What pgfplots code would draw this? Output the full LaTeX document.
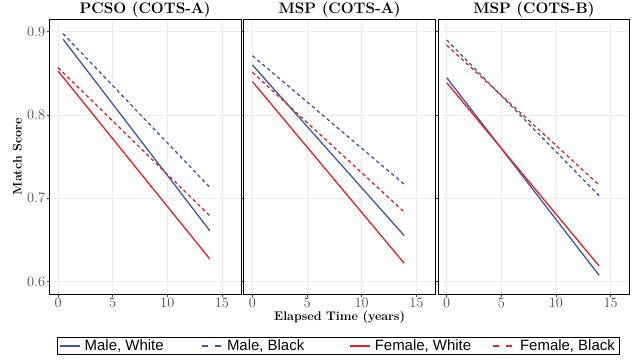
\documentclass[border=0pt]{standalone}
\usepackage{fontspec}
\usepackage{pgfplots}
\pgfplotsset{compat=1.18}
\newfontfamily\legendfont{Liberation Sans}
\definecolor{cblue}{RGB}{59,88,168}
\definecolor{cred}{RGB}{232,30,38}
\definecolor{gridc}{RGB}{235,235,235}
\pgfplotsset{
  panel/.style={
    scale only axis, width=191.7bp, height=274.5bp,
    anchor=south west,
    xmin=-0.8, xmax=16.75, ymin=0.5852, ymax=0.9146,
    xtick={0,5,10,15}, ytick={0.6,0.7,0.8,0.9},
    grid=major, major grid style={gridc, line width=0.6bp},
    tick align=outside, major tick length=2.5bp,
    tick style={black!75, line width=0.6bp},
    xtick pos=lower, ytick pos=left,
    axis line style={black, line width=0.9bp},
    ticklabel style={font=\fontsize{13.5}{14}\selectfont, text=black!70},
    xticklabel style={inner sep=1bp, yshift=-0.5bp},
    yticklabel style={inner sep=1.5bp},
    every axis title/.style={font=\fontsize{15.3}{16}\selectfont\bfseries, at={(axis description cs:0.5,1.0219)}, anchor=base},
    every axis plot/.append style={line width=1.3bp},
    legend image code/.code={\draw[##1] (0bp,0bp) -- (20bp,0bp);},
  },
  mw/.style={cblue, solid},
  mb/.style={cblue, dash pattern=on 3.5bp off 3bp},
  fw/.style={cred, solid},
  fb/.style={cred, dash pattern=on 3.5bp off 3bp},
}
\begin{document}
\begin{tikzpicture}
\useasboundingbox (0bp,0bp) rectangle (638bp,-362bp);
\begin{axis}[panel, at={(49.3bp,-294bp)},
  title={PCSO (COTS-A)},
  ylabel={Match Score},
  ylabel style={font=\fontsize{12.5}{13}\selectfont\bfseries, at={(axis description cs:-0.166,0.5)}, anchor=center},
  legend columns=4,
  legend style={at={(axis description cs:0.040,-0.1566)}, anchor=north west,
    draw=black, line width=0.9bp, inner xsep=2bp, inner ysep=1bp,
    nodes={inner sep=1.5bp, font=\legendfont\fontsize{15}{15.5}\selectfont}},
]
\addlegendimage{cblue, solid, line width=1.3bp}
\addlegendentry{\makebox[118bp][l]{\hspace{2.5bp}Male, White}}
\addlegendimage{cblue, dash pattern=on 6bp off 7bp, line width=1.3bp}
\addlegendentry{\makebox[123.5bp][l]{\hspace{2.5bp}Male, Black}}
\addlegendimage{cred, solid, line width=1.3bp}
\addlegendentry{\makebox[118.5bp][l]{\hspace{2.5bp}Female, White}}
\addlegendimage{cred, dash pattern=on 6bp off 7bp, line width=1.3bp}
\addlegendentry{\makebox[101bp][l]{\hspace{5bp}Female, Black}}
\addplot[mw, forget plot] coordinates {(0.46,0.891) (13.9,0.661)};
\addplot[mb, forget plot] coordinates {(0.46,0.8976) (13.9,0.7132)};
\addplot[fw, forget plot] coordinates {(0,0.8528) (13.9,0.6271)};
\addplot[fb, forget plot] coordinates {(0,0.8568) (13.9,0.679)};
\end{axis}
\begin{axis}[panel, at={(243.7bp,-294bp)},
  title={MSP (COTS-A)}, yticklabels={},
  xlabel={Elapsed Time (years)},
  xlabel style={font=\fontsize{12.5}{13}\selectfont\bfseries, at={(axis description cs:0.5,-0.0838)}, anchor=center},
]
\addplot[mw] coordinates {(0,0.86) (13.9,0.6552)};
\addplot[mb] coordinates {(0,0.8712) (13.9,0.7168)};
\addplot[fw] coordinates {(0,0.84) (13.9,0.622)};
\addplot[fb] coordinates {(0,0.8513) (13.9,0.6836)};
\end{axis}
\begin{axis}[panel, at={(438bp,-294bp)},
  title={MSP (COTS-B)}, yticklabels={},
]
\addplot[mw] coordinates {(0,0.8448) (13.95,0.6076)};
\addplot[mb] coordinates {(0,0.89) (13.95,0.7031)};
\addplot[fw] coordinates {(0,0.8388) (13.95,0.6188)};
\addplot[fb] coordinates {(0,0.8837) (13.95,0.716)};
\end{axis}
\end{tikzpicture}
\end{document}
